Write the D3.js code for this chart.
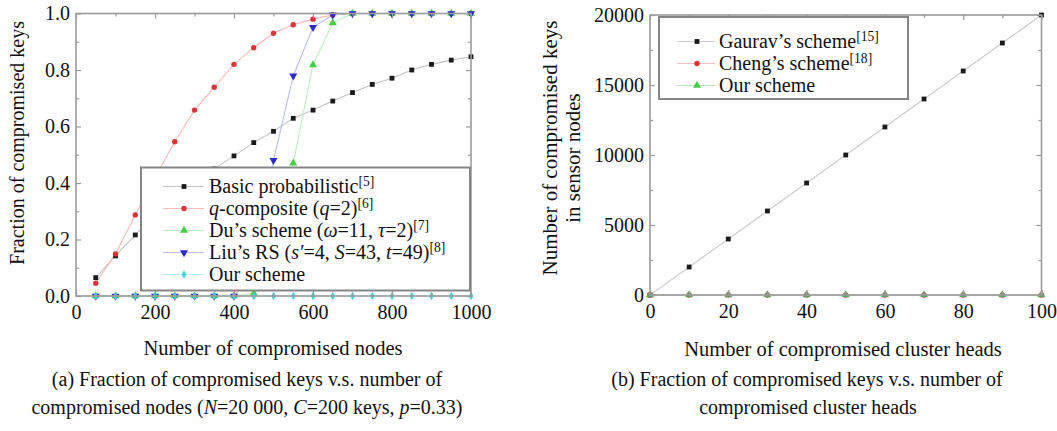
<!DOCTYPE html>
<html>
<head>
<meta charset="utf-8">
<script src="https://cdn.jsdelivr.net/npm/d3@7"></script>
<style>
  html, body { margin: 0; padding: 0; background: #fff; }
  svg, svg text { font-family: "Liberation Serif", "Times New Roman", Times, serif; }
</style>
</head>
<body>
<svg id="chart" width="1057" height="431"></svg>
<script>
// ---------- Data: chart (a) ----------
const nodesX = [50,100,150,200,250,300,350,400,450,500,550,600,650,700,750,800,850,900,950,1000];
const basicProb = [0.065,0.142,0.216,0.285,0.345,0.40,0.45,0.496,0.543,0.583,0.629,0.658,0.690,0.720,0.749,0.771,0.800,0.820,0.835,0.847];
const qComposite = [0.045,0.149,0.287,0.42,0.546,0.658,0.739,0.820,0.879,0.930,0.960,0.980,0.995,1,1,1,1,1,1,1];
const duScheme = [0,0,0,0,0,0,0,0,0.01,0.12,0.47,0.818,0.967,1,1,1,1,1,1,1];
const liuRS = [0,0,0,0,0,0,0,0,0.08,0.48,0.779,0.951,0.995,1,1,1,1,1,1,1];
const ourSchemeA = [0,0,0,0,0,0,0,0,0,0,0,0,0,0,0,0,0,0,0,0];
const ticksAx = [0,200,400,600,800,1000];
const ticksAy = [0.0,0.2,0.4,0.6,0.8,1.0];

// ---------- Data: chart (b) ----------
const headsX = [0,10,20,30,40,50,60,70,80,90,100];
const gaurav = [0,2000,4000,6000,8000,10000,12000,14000,16000,18000,20000];
const cheng = [0,0,0,0,0,0,0,0,0,0,0];
const ourSchemeB = [0,0,0,0,0,0,0,0,0,0,0];
const ticksBx = [0,20,40,60,80,100];
const ticksBy = [0,5000,10000,15000,20000];

const FONT = '"Liberation Serif", "Times New Roman", Times, serif';
const FS = 20;
const svg = d3.select("#chart").attr("font-family", FONT);
const FRAME = "#9a9a9a";
const INK = "#111";

function marker(g, type, cx, cy, color) {
  if (type === "square") {
    g.append("rect").attr("x", cx-2.4).attr("y", cy-2.4).attr("width", 4.8).attr("height", 4.8).attr("fill", color);
  } else if (type === "circle") {
    g.append("circle").attr("cx", cx).attr("cy", cy).attr("r", 2.7).attr("fill", color);
  } else if (type === "up") {
    g.append("path").attr("d", d3.symbol().type(d3.symbolTriangle).size(28)()).attr("transform", `translate(${cx},${cy})`).attr("fill", color);
  } else if (type === "down") {
    g.append("path").attr("d", d3.symbol().type(d3.symbolTriangle).size(28)()).attr("transform", `translate(${cx},${cy}) rotate(180)`).attr("fill", color);
  } else if (type === "diamond") {
    g.append("path").attr("d", d3.symbol().type(d3.symbolDiamond).size(20)()).attr("transform", `translate(${cx},${cy})`).attr("fill", color);
  }
}

function frameAxes(g, x, y, xt, yt, xminor, yminor, yfmt, xfmt) {
  const [x0, x1] = x.range();
  const [y0, y1] = y.range();
  g.append("g").attr("transform", `translate(0,${y0})`).call(d3.axisBottom(x).tickValues(xminor).tickSize(-3).tickFormat(""));
  g.append("g").attr("transform", `translate(0,${y1})`).call(d3.axisTop(x).tickValues(xminor).tickSize(-3).tickFormat(""));
  g.append("g").attr("transform", `translate(${x0},0)`).call(d3.axisLeft(y).tickValues(yminor).tickSize(-3).tickFormat(""));
  g.append("g").attr("transform", `translate(${x1},0)`).call(d3.axisRight(y).tickValues(yminor).tickSize(-3).tickFormat(""));
  g.append("g").attr("transform", `translate(0,${y0})`).call(d3.axisBottom(x).tickValues(xt).tickSize(-5).tickPadding(9).tickFormat(xfmt));
  g.append("g").attr("transform", `translate(0,${y1})`).call(d3.axisTop(x).tickValues(xt).tickSize(-5).tickFormat(""));
  g.append("g").attr("transform", `translate(${x0},0)`).call(d3.axisLeft(y).tickValues(yt).tickSize(-5).tickPadding(6).tickFormat(yfmt));
  g.append("g").attr("transform", `translate(${x1},0)`).call(d3.axisRight(y).tickValues(yt).tickSize(-5).tickFormat(""));
  g.selectAll(".domain").remove();
  g.selectAll("g").attr("font-family", FONT);
  g.selectAll(".tick line").attr("stroke", FRAME).attr("stroke-width", 1.2);
  g.selectAll(".tick text").attr("font-family", FONT).attr("font-size", FS).attr("fill", INK);
  g.append("rect").attr("x", x0).attr("y", y1).attr("width", x1-x0).attr("height", y0-y1)
    .attr("fill", "none").attr("stroke", FRAME).attr("stroke-width", 1.6);
}

function addText(el, parts) {
  parts.forEach(p => {
    const t = el.append("tspan").text(p.t);
    if (p.i) t.attr("font-style", "italic");
    if (p.s) t.attr("baseline-shift", "super").attr("font-size", "68%");
  });
}

// ================= Chart (a) =================
const xA = d3.scaleLinear().domain([0, 1000]).range([76, 471]);
const yA = d3.scaleLinear().domain([0, 1]).range([296, 13.5]);
const gA = svg.append("g");

const seriesA = [
  {vals: basicProb, line: "#c4c4c4", col: "#1a1a1a", m: "square"},
  {vals: qComposite, line: "#f7b8b8", col: "#dd3333", m: "circle"},
  {vals: duScheme, line: "#bdeebd", col: "#44d044", m: "up"},
  {vals: liuRS, line: "#bdbdf4", col: "#2a2ad0", m: "down"},
  {vals: ourSchemeA, line: "#b8ecec", col: "#40d4d4", m: "diamond"}
];
const lineA = d3.line().x((d,i) => xA(nodesX[i])).y(d => yA(d));
seriesA.forEach(s => {
  gA.append("path").datum(s.vals).attr("d", lineA).attr("fill", "none").attr("stroke", s.line).attr("stroke-width", 1.1);
});
seriesA.forEach(s => {
  const mg = gA.append("g");
  s.vals.forEach((v,i) => marker(mg, s.m, xA(nodesX[i]), yA(v), s.col));
});

frameAxes(gA, xA, yA, ticksAx, ticksAy,
  [100,300,500,700,900], [0.1,0.3,0.5,0.7,0.9], d3.format(".1f"), d3.format("d"));

// legend (a)
const legA = gA.append("g");
legA.append("rect").attr("x", 141).attr("y", 167.5).attr("width", 329).attr("height", 123)
  .attr("fill", "#fff").attr("stroke", "#858585").attr("stroke-width", 2);
const legAItems = [
  {s: seriesA[0], parts: [{t:"Basic probabilistic"},{t:"[5]", s:1}]},
  {s: seriesA[1], parts: [{t:"q", i:1},{t:"-composite ("},{t:"q", i:1},{t:"=2)"},{t:"[6]", s:1}]},
  {s: seriesA[2], parts: [{t:"Du’s scheme ("},{t:"ω", i:1},{t:"=11, "},{t:"τ", i:1},{t:"=2)"},{t:"[7]", s:1}]},
  {s: seriesA[3], parts: [{t:"Liu’s RS ("},{t:"s′", i:1},{t:"=4, "},{t:"S", i:1},{t:"=43, "},{t:"t", i:1},{t:"=49)"},{t:"[8]", s:1}]},
  {s: seriesA[4], parts: [{t:"Our scheme"}]}
];
legAItems.forEach((it, k) => {
  const cy = 186.5 + k * 22;
  legA.append("line").attr("x1", 163).attr("x2", 204).attr("y1", cy).attr("y2", cy)
    .attr("stroke", it.s.line).attr("stroke-width", 1.2);
  marker(legA, it.s.m, 184, cy, it.s.col);
  const t = legA.append("text").attr("x", 209).attr("y", cy + 6.5).attr("font-size", FS).attr("fill", INK);
  addText(t, it.parts);
});

svg.append("text").attr("transform", "translate(24,143) rotate(-90)").attr("text-anchor", "middle")
  .attr("font-size", FS).attr("fill", INK).text("Fraction of compromised keys");
svg.append("text").attr("x", 273).attr("y", 355).attr("text-anchor", "middle")
  .attr("font-size", 20.5).attr("fill", INK).text("Number of compromised nodes");
addText(svg.append("text").attr("x", 247).attr("y", 386).attr("text-anchor", "middle").attr("font-size", FS).attr("fill", INK),
  [{t:"(a) Fraction of compromised keys v.s. number of"}]);
addText(svg.append("text").attr("x", 247).attr("y", 414).attr("text-anchor", "middle").attr("font-size", FS).attr("fill", INK),
  [{t:"compromised nodes ("},{t:"N",i:1},{t:"=20 000, "},{t:"C",i:1},{t:"=200 keys, "},{t:"p",i:1},{t:"=0.33)"}]);

// ================= Chart (b) =================
const xB = d3.scaleLinear().domain([0, 100]).range([650, 1041.5]);
const yB = d3.scaleLinear().domain([0, 20000]).range([295, 15]);
const gB = svg.append("g");
const seriesB = [
  {vals: gaurav, line: "#cccccc", col: "#1a1a1a", m: "square"},
  {vals: cheng, line: "#f0c0c0", col: "#dd3333", m: "circle"},
  {vals: ourSchemeB, line: "#bfe3b8", col: "#6a9a66", m: "up"}
];
const lineB = d3.line().x((d,i) => xB(headsX[i])).y(d => yB(d));
seriesB.forEach(s => {
  gB.append("path").datum(s.vals).attr("d", lineB).attr("fill", "none").attr("stroke", s.line).attr("stroke-width", 1.1);
});
seriesB.forEach(s => {
  const mg = gB.append("g");
  s.vals.forEach((v,i) => marker(mg, s.m, xB(headsX[i]), yB(v), s.col));
});
frameAxes(gB, xB, yB, ticksBx, ticksBy,
  [10,30,50,70,90], [2500,7500,12500,17500], d3.format("d"), d3.format("d"));

const legB = gB.append("g");
legB.append("rect").attr("x", 659).attr("y", 17).attr("width", 249).attr("height", 82)
  .attr("fill", "#fff").attr("stroke", "#858585").attr("stroke-width", 2);
const legBItems = [
  {s: seriesB[0], parts: [{t:"Gaurav’s scheme"},{t:"[15]", s:1}]},
  {s: seriesB[1], parts: [{t:"Cheng’s scheme"},{t:"[18]", s:1}]},
  {s: {line: "#bfe3b8", col: "#44d044", m: "up"}, parts: [{t:"Our scheme"}]}
];
legBItems.forEach((it, k) => {
  const cy = 41.5 + k * 22;
  legB.append("line").attr("x1", 677).attr("x2", 715).attr("y1", cy).attr("y2", cy)
    .attr("stroke", it.s.line).attr("stroke-width", 1.2);
  marker(legB, it.s.m, 697, cy, it.s.col);
  const t = legB.append("text").attr("x", 719).attr("y", cy + 6.5).attr("font-size", FS).attr("fill", INK);
  addText(t, it.parts);
});

svg.append("text").attr("transform", "translate(557,148) rotate(-90)").attr("text-anchor", "middle")
  .attr("font-size", 21).attr("fill", INK).text("Number of compromised keys");
svg.append("text").attr("transform", "translate(580,158) rotate(-90)").attr("text-anchor", "middle")
  .attr("font-size", 21).attr("fill", INK).text("in sensor nodes");
svg.append("text").attr("x", 843).attr("y", 356).attr("text-anchor", "middle")
  .attr("font-size", 20.5).attr("fill", INK).text("Number of compromised cluster heads");
svg.append("text").attr("x", 807).attr("y", 386).attr("text-anchor", "middle")
  .attr("font-size", FS).attr("fill", INK).text("(b) Fraction of compromised keys v.s. number of");
svg.append("text").attr("x", 808).attr("y", 414).attr("text-anchor", "middle")
  .attr("font-size", FS).attr("fill", INK).text("compromised cluster heads");
</script>
</body>
</html>
